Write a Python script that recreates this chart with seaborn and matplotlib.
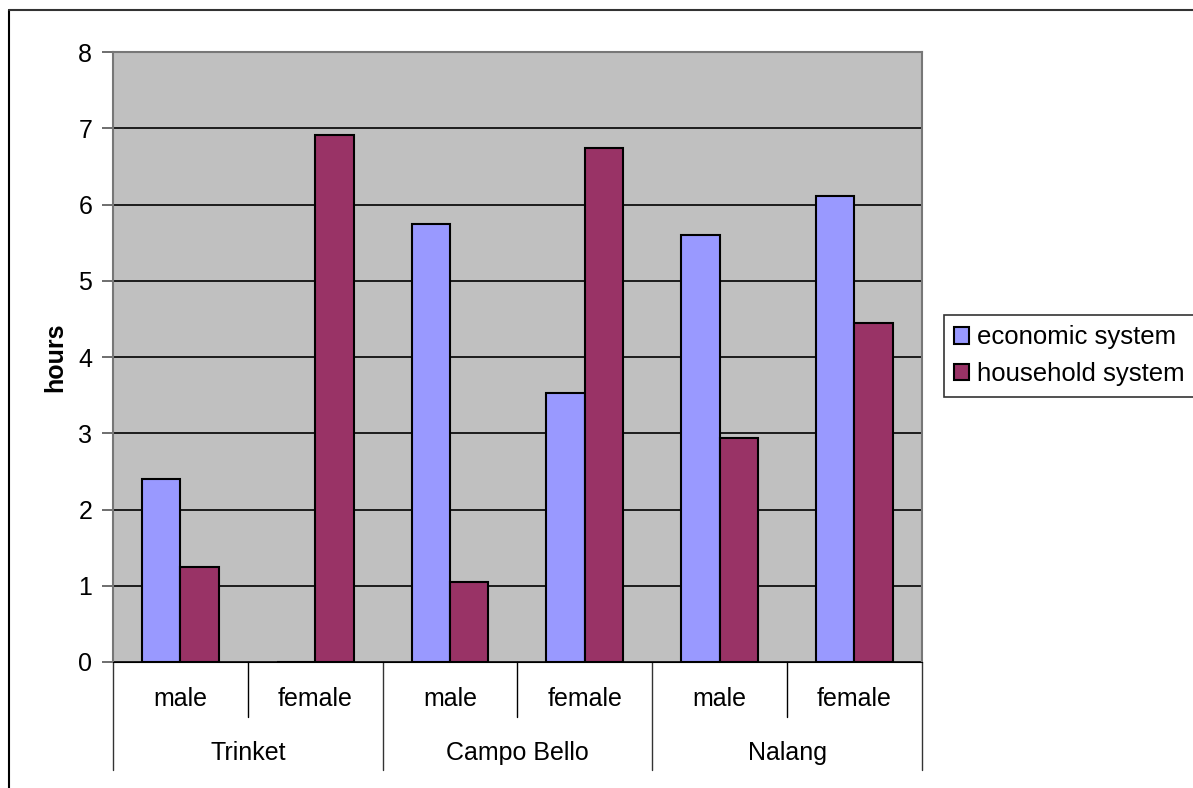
import numpy as np
import pandas as pd
import matplotlib
matplotlib.use('agg')
import matplotlib.pyplot as plt
import seaborn as sns
from matplotlib.lines import Line2D

# data
sites = ['Trinket', 'Campo Bello', 'Nalang']
sexes = ['male', 'female']
economic = [2.40, 0.0, 5.75, 3.53, 5.60, 6.11]
household = [1.25, 6.91, 1.05, 6.745, 2.94, 4.44]
series = ['economic system', 'household system']
colors = ['#9999FF', '#993366']

cats = [f'{s} {x}' for s in sites for x in sexes]
df = pd.DataFrame({
    'cat': cats * 2,
    'series': [series[0]] * 6 + [series[1]] * 6,
    'hours': economic + household,
})

sns.set_style('white')
plt.rcParams['font.family'] = ['Liberation Sans', 'DejaVu Sans']
plt.rcParams['text.color'] = 'black'
plt.rcParams['axes.labelcolor'] = 'black'
plt.rcParams['ytick.labelcolor'] = 'black'

fig = plt.figure(figsize=(11.93, 7.88), dpi=100)
ax = fig.add_axes([0.0947, 0.1599, 0.678, 0.774])
ax.set_facecolor('#C0C0C0')

sns.barplot(data=df, x='cat', y='hours', hue='series', order=cats,
            hue_order=series, palette=colors, saturation=1, width=0.57,
            edgecolor='black', linewidth=1.5, errorbar=None, ax=ax, zorder=3)

ax.set_ylim(0, 8)
ax.set_xlim(-0.5, 5.5)
ax.set_yticks(range(9))
ax.yaxis.grid(True, color='black', linewidth=1.2, zorder=0)
ax.set_axisbelow(True)
ax.tick_params(axis='y', labelsize=18, length=8, width=1.2, color='#555555',
               direction='out', left=True, pad=7)
ax.set_xticks([])
ax.set_xlabel('')
ax.set_ylabel('hours', fontsize=18, fontweight='bold', labelpad=8)

for side in ['top', 'right', 'left']:
    ax.spines[side].set_color('#777777')
    ax.spines[side].set_linewidth(1.5)
ax.spines['bottom'].set_color('black')

# two-level category axis
tr = ax.get_xaxis_transform()
for i, c in enumerate(cats):
    ax.text(i, -0.061, sexes[i % 2], transform=tr, ha='center', va='center', fontsize=18)
for j, s in enumerate(sites):
    ax.text(2 * j + 0.5, -0.149, s, transform=tr, ha='center', va='center', fontsize=18)
    ax.plot([2 * j + 0.5] * 2, [0, -0.09], transform=tr, color='black', lw=1, clip_on=False)
for b in [-0.5, 1.5, 3.5, 5.5]:
    ax.plot([b, b], [0, -0.177], transform=tr, color='#333333', lw=1, clip_on=False)

leg = ax.legend(loc='upper left', bbox_to_anchor=(0.791, 0.600), bbox_transform=fig.transFigure,
                fontsize=18.5, frameon=True, fancybox=False, edgecolor='black',
                handlelength=0.6, handleheight=0.6, handletextpad=0.3,
                borderpad=0.4, labelspacing=0.5, borderaxespad=0)
leg.get_frame().set_linewidth(1.2)

# outer chart border (only top and left edges visible)
fig.add_artist(Line2D([9 / 1193, 9 / 1193], [0, 1 - 10 / 788], transform=fig.transFigure,
                      color='black', lw=1.5))
fig.add_artist(Line2D([9 / 1193, 1], [1 - 10 / 788, 1 - 10 / 788], transform=fig.transFigure,
                      color='#333333', lw=1.5))

plt.savefig('out.png', dpi=100)
plt.close()
